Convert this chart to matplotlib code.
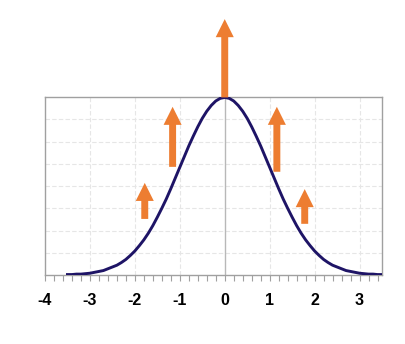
import numpy as np
import matplotlib.pyplot as plt
from matplotlib.patches import FancyArrowPatch
from matplotlib.ticker import MultipleLocator

# bell curve (x from -3.5 to 3.5 in steps of 0.1)
curve_x = [round(-3.5 + 0.1 * i, 1) for i in range(71)]
curve_y = [0.001, 0.001, 0.002, 0.002, 0.003, 0.004, 0.006, 0.008, 0.010, 0.014,
           0.018, 0.022, 0.028, 0.035, 0.044, 0.054, 0.066, 0.079, 0.094, 0.111,
           0.130, 0.150, 0.171, 0.194, 0.218, 0.242, 0.266, 0.290, 0.312, 0.333,
           0.352, 0.368, 0.381, 0.391, 0.397, 0.399, 0.397, 0.391, 0.381, 0.368,
           0.352, 0.333, 0.312, 0.290, 0.266, 0.242, 0.218, 0.194, 0.171, 0.150,
           0.130, 0.111, 0.094, 0.079, 0.066, 0.054, 0.044, 0.035, 0.028, 0.022,
           0.018, 0.014, 0.010, 0.008, 0.006, 0.004, 0.003, 0.002, 0.002, 0.001,
           0.001]

# orange arrows: x position, tail and tip height
arrow_x = [-1.78, -1.16, 0.0, 1.16, 1.78]
arrow_tail = [0.126, 0.243, 0.399, 0.232, 0.115]
arrow_tip = [0.207, 0.378, 0.575, 0.378, 0.193]

xtick_labels = ["-4", "-3", "-2", "-1", "0", "1", "2", "3"]

navy = "#1e1466"
orange = "#ed7d31"
grey = "#a0a0a0"

fig = plt.figure(figsize=(4.06, 3.44), dpi=100)
ax = fig.add_axes([45 / 406, 69 / 344, 337 / 406, 178 / 344])

ax.set_xlim(-4, 3.5)
ax.set_ylim(0, 0.4)

# grid
for gx in [-3, -2, -1, 1, 2, 3]:
    ax.axvline(gx, color="#e6e6e6", lw=0.8, ls=(0, (4, 2)), zorder=0)
for gy in np.arange(0.05, 0.4, 0.05):
    ax.axhline(gy, color="#e6e6e6", lw=0.8, ls=(0, (4, 2)), zorder=0)
ax.axvline(0, color="#b8b8b8", lw=1.0, zorder=1)

ax.plot(curve_x, curve_y, color=navy, lw=2.1, zorder=3)

for x, y0, y1 in zip(arrow_x, arrow_tail, arrow_tip):
    arr = FancyArrowPatch((x, y0), (x, y1),
                          arrowstyle="simple,head_length=13,head_width=13,tail_width=5",
                          mutation_scale=1, shrinkA=0, shrinkB=0,
                          color=orange, lw=0, clip_on=False, zorder=4)
    ax.add_patch(arr)

for s in ax.spines.values():
    s.set_color(grey)
    s.set_linewidth(1.0)

ax.set_xticks(range(-4, 4))
ax.set_xticklabels(xtick_labels, fontsize=11.5, fontweight="bold",
                   fontfamily="Liberation Sans")
ax.xaxis.set_minor_locator(MultipleLocator(0.2))
ax.tick_params(axis="x", which="both", direction="out", length=4, width=0.8,
               color=grey, pad=9)
ax.set_yticks([])

fig.savefig("out.png", dpi=100)
